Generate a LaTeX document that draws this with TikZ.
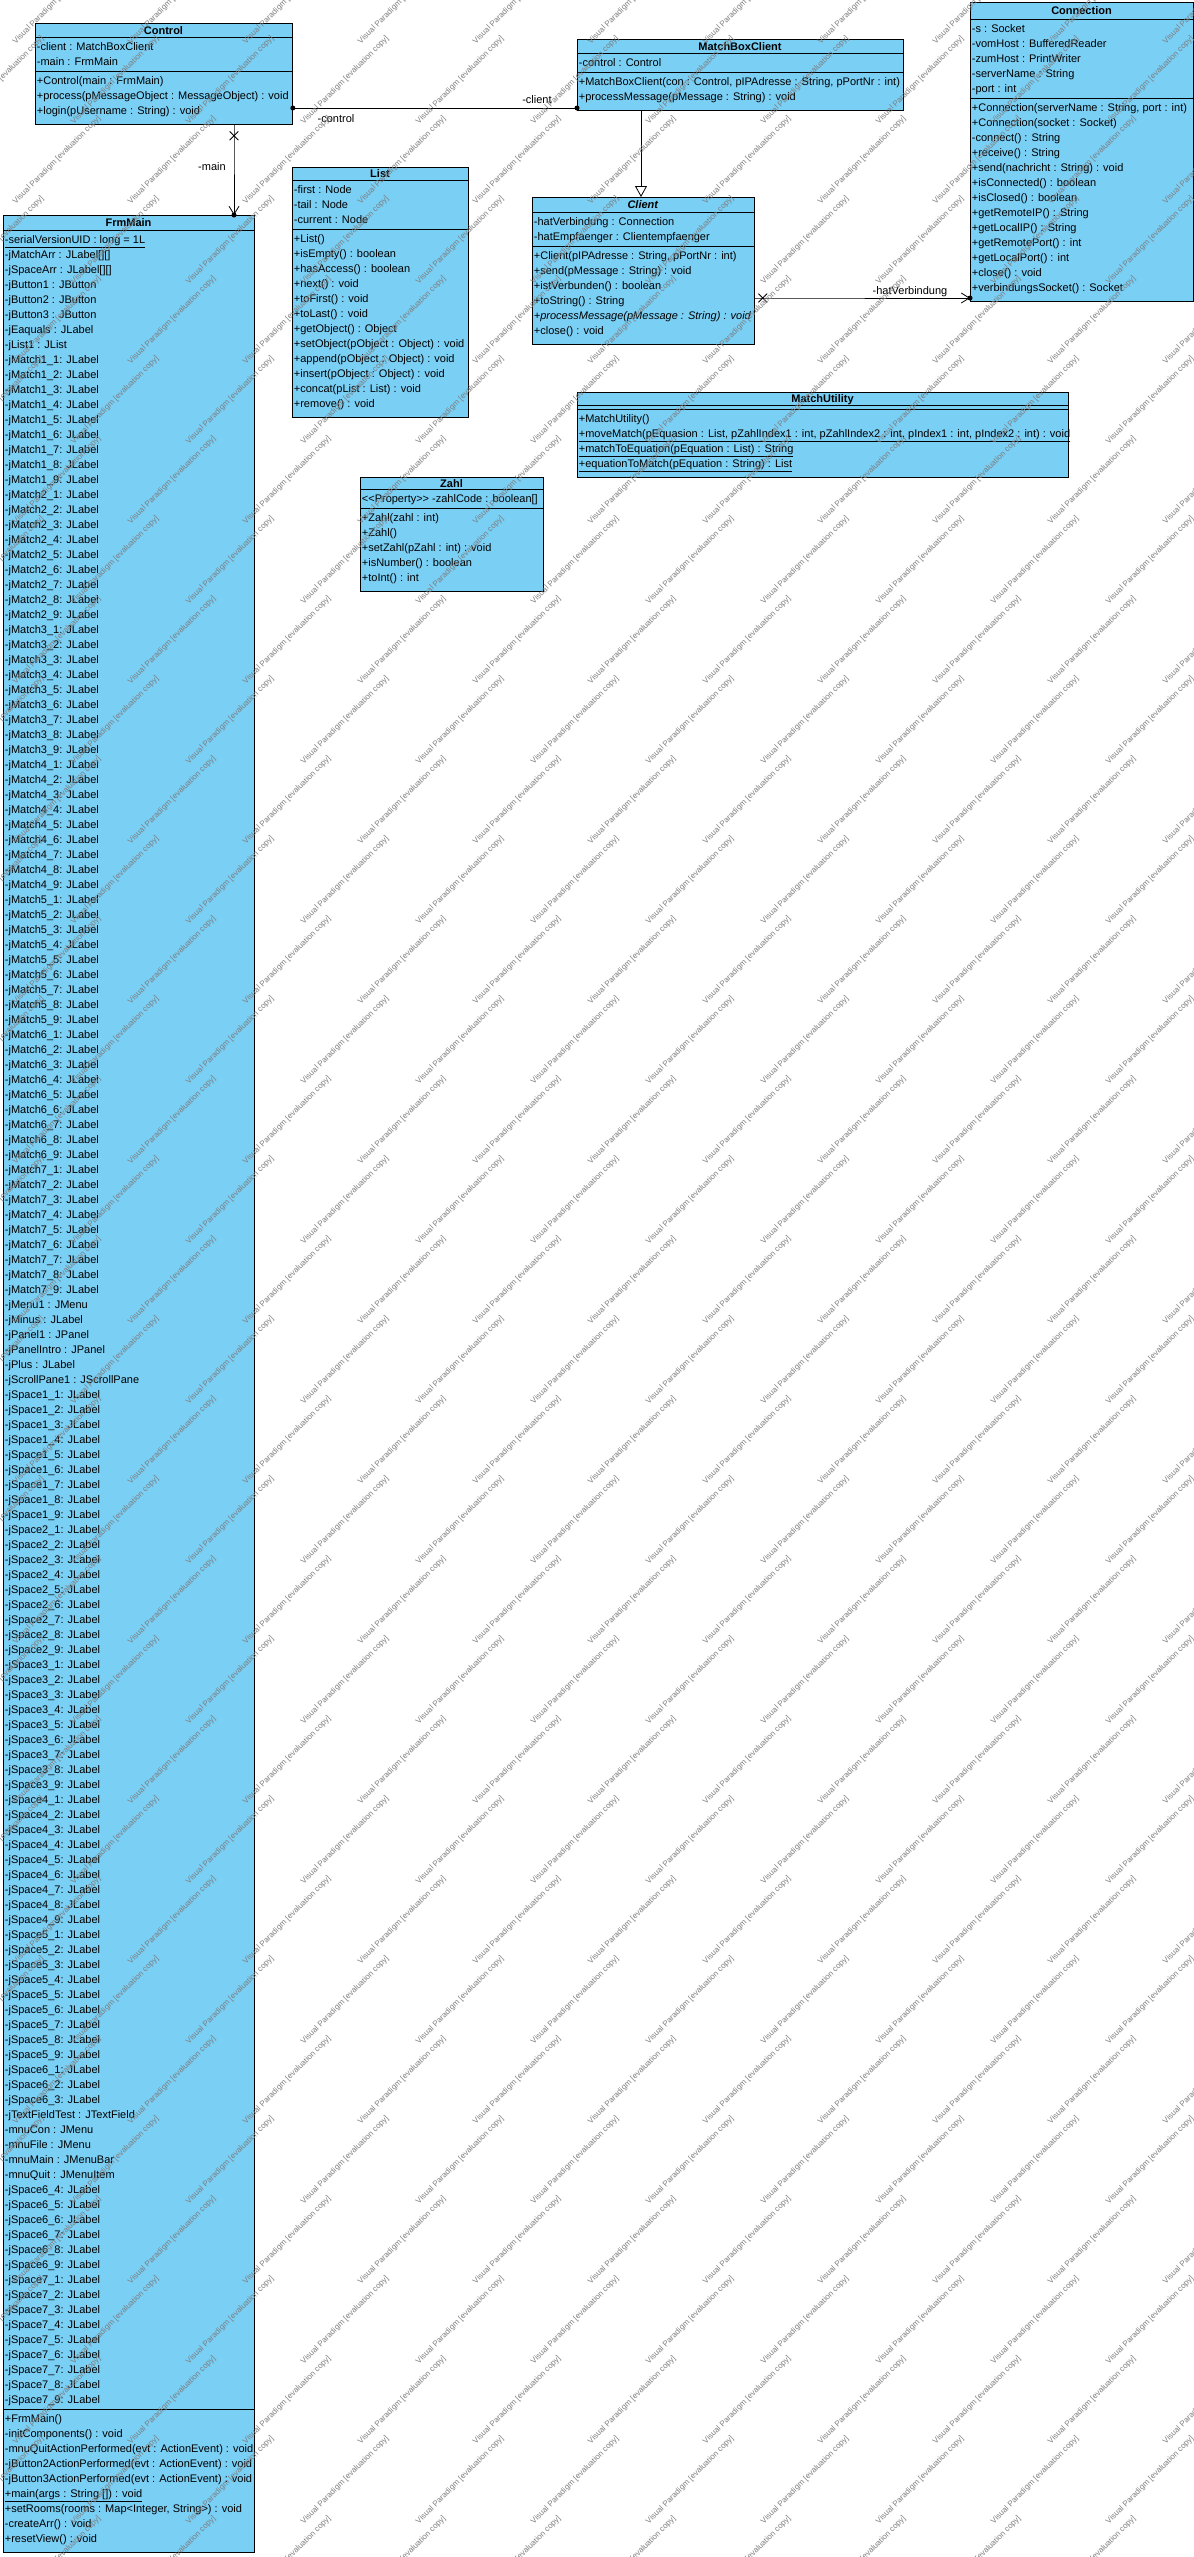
\documentclass[tikz,border=0pt]{standalone}
\usepackage{fontspec}
\setmainfont{Liberation Sans}
\usetikzlibrary{arrows.meta,shapes.misc,positioning}

\definecolor{classblue}{RGB}{122,207,245}
\definecolor{wmgray}{RGB}{125,125,125}

\tikzset{
  >=Latex,
  uml/.style={font=\fontsize{11}{15}\selectfont, line width=0.8pt},
  classbox/.style={draw, fill=classblue, inner sep=0pt, anchor=north west},
  classname/.style={font=\fontsize{11}{15}\selectfont\bfseries, inner sep=0pt, anchor=base},
  member/.style={inner sep=0pt, anchor=base west},
  role/.style={inner sep=0pt, anchor=base},
  navi/.style={-{Straight Barb[length=8pt,width=10pt]}},
  gen/.style={-{Triangle[open,length=11pt,width=12pt]}},
  xmark/.style={cross out, draw, minimum size=8pt, inner sep=0pt},
  owner/.style={circle, fill, inner sep=0pt, minimum size=5pt},
  wmark/.style={font=\fontsize{8}{9}\selectfont, text=wmgray, rotate=45, inner sep=0pt}
}

% box, name and the two separator lines of a class
% [#1 header height] #2 name, #3 left, #4 top, #5 width, #6 no. of attributes, #7 no. of operations, #8 title
\newcommand{\umlclass}[8][14]{%
  \pgfmathsetmacro\sepa{#4+#1}%
  \pgfmathsetmacro\sepb{\sepa+4+15*#6}%
  \pgfmathsetmacro\boxh{\sepb+8+15*#7-#4}%
  \pgfmathsetmacro\attry{\sepa+13.5}%
  \pgfmathsetmacro\opy{\sepb+13.5}%
  \node[classbox, minimum width=#5pt, minimum height=\boxh pt] (#2) at (#3,#4) {};
  \node[classname] (#2-name) at ({#3+#5/2},{#4+#1/2+4}) {#8};
  \draw (#2.west |- 0,\sepa) -- (#2.east |- 0,\sepa);
  \draw (#2.west |- 0,\sepb) -- (#2.east |- 0,\sepb);
}
% one line of text per list item
\newcommand{\members}[4]{%
  \foreach \mem [count=\k] in {#4} {\node[member] (#1\k) at ({#2},{#3+15*(\k-1)}) {\mem};}%
}

\begin{document}
\begin{tikzpicture}[uml, x=1pt, y=-1pt]
\useasboundingbox (0,0) rectangle (1194,2557);

% Control
\umlclass{control}{35}{23}{257}{2}{3}{Control}
\members{control-a}{36.5}{\attry}{-client : MatchBoxClient, -main : FrmMain}
\members{control-o}{36.5}{\opy}{+Control(main : FrmMain), +process(pMessageObject : MessageObject) : void, +login(pUsername : String) : void}

% MatchBoxClient
\umlclass{mbc}{577}{39}{326}{1}{2}{MatchBoxClient}
\members{mbc-a}{578.5}{\attry}{-control : Control}
\members{mbc-o}{578.5}{\opy}{{+MatchBoxClient(con : Control, pIPAdresse : String, pPortNr : int)}, +processMessage(pMessage : String) : void}

% Connection
\umlclass[17]{conn}{970}{2}{223}{5}{13}{Connection}
\members{conn-a}{971.5}{\attry}{-s : Socket, -vomHost : BufferedReader, -zumHost : PrintWriter, -serverName : String, -port : int}
\members{conn-o}{971.5}{\opy}{{+Connection(serverName : String, port : int)}, +Connection(socket : Socket), -connect() : String, +receive() : String,
  +send(nachricht : String) : void, +isConnected() : boolean, +isClosed() : boolean, +getRemoteIP() : String, +getLocalIP() : String,
  +getRemotePort() : int, +getLocalPort() : int, +close() : void, +verbindungsSocket() : Socket}

% List
\umlclass[13]{list}{292}{167}{176}{3}{12}{List}
\members{list-a}{293.5}{\attry}{-first : Node, -tail : Node, -current : Node}
\members{list-o}{293.5}{\opy}{+List(), +isEmpty() : boolean, +hasAccess() : boolean, +next() : void, +toFirst() : void, +toLast() : void,
  +getObject() : Object, +setObject(pObject : Object) : void, +append(pObject : Object) : void, +insert(pObject : Object) : void,
  +concat(pList : List) : void, +remove() : void}

% Client
\umlclass[15]{client}{532}{197}{222}{2}{6}{\textit{Client}}
\members{client-a}{533.5}{\attry}{-hatVerbindung : Connection, -hatEmpfaenger : Clientempfaenger}
\members{client-o}{533.5}{\opy}{{+Client(pIPAdresse : String, pPortNr : int)}, +send(pMessage : String) : void, +istVerbunden() : boolean,
  +toString() : String, \textit{+processMessage(pMessage : String) : void}, +close() : void}

% MatchUtility
\umlclass[13]{mutil}{577}{392}{491}{0}{4}{MatchUtility}
\members{mutil-o}{578.5}{\opy}{+MatchUtility(), {\underline{+moveMatch(pEquasion : List, pZahlIndex1 : int, pZahlIndex2 : int, pIndex1 : int, pIndex2 : int) : void}},
  \underline{+matchToEquation(pEquation : List) : String}, \underline{+equationToMatch(pEquation : String) : List}}

% Zahl
\umlclass[12]{zahl}{360}{477}{183}{1}{5}{Zahl}
\members{zahl-a}{361.5}{\attry}{<\kern0pt<Property>\kern0pt> -zahlCode : boolean[]}
\members{zahl-o}{361.5}{\opy}{+Zahl(zahl : int), +Zahl(), +setZahl(pZahl : int) : void, +isNumber() : boolean, +toInt() : int}

% FrmMain
\umlclass[15]{frm}{3}{215}{251}{145}{9}{FrmMain}
\members{frm-a}{4.5}{\attry}{\underline{-serialVersionUID : long = 1L}, -jMatchArr : JLabel[][], -jSpaceArr : JLabel[][], -jButton1 : JButton,
  -jButton2 : JButton, -jButton3 : JButton, -jEaquals : JLabel, -jList1 : JList}
\foreach \r in {1,...,7}
  \foreach \c in {1,...,9} {
    \pgfmathtruncatemacro\k{8+9*(\r-1)+\c}
    \node[member] (frm-a\k) at (4.5,{\attry+15*(\k-1)}) {-jMatch\r\_\c : JLabel};
  }
\members{frm-b}{4.5}{\attry+15*71}{-jMenu1 : JMenu, -jMinus : JLabel, -jPanel1 : JPanel, -jPanelIntro : JPanel, -jPlus : JLabel, -jScrollPane1 : JScrollPane}
\foreach \r in {1,...,7}
  \foreach \c in {1,...,9} {
    \pgfmathtruncatemacro\k{77+9*(\r-1)+\c+5*(9*(\r-1)+\c>48)}
    \node[member] (frm-a\k) at (4.5,{\attry+15*(\k-1)}) {-jSpace\r\_\c : JLabel};
  }
\members{frm-c}{4.5}{\attry+15*125}{-jTextFieldTest : JTextField, -mnuCon : JMenu, -mnuFile : JMenu, -mnuMain : JMenuBar, -mnuQuit : JMenuItem}
\members{frm-o}{4.5}{\opy}{+FrmMain(), -initComponents() : void, -mnuQuitActionPerformed(evt : ActionEvent) : void,
  -jButton2ActionPerformed(evt : ActionEvent) : void, -jButton3ActionPerformed(evt : ActionEvent) : void,
  \underline{+main(args : String []) : void}, {+setRooms(rooms : Map<Integer, String>) : void}, -createArr() : void, +resetView() : void}

% Control -- MatchBoxClient
\draw (control.east |- 0,108) -- (mbc.west |- 0,108);
\node[owner] (dot-control) at (control.east |- 0,108) {};
\node[owner] (dot-client) at (mbc.west |- 0,108) {};
\node[role] (r-control) at (336,122) {-control};
\node[role] (r-client) at (537,103) {-client};

% Control -> FrmMain
\draw[navi] (control.south -| 234,0) -- ++(0,11) node[xmark] (x-main) {} -- (frm.north -| 234,0);
\node[owner] (dot-main) at (frm.north -| 234,0) {};
\node[role] (r-main) at (212,170) {-main};

% MatchBoxClient -> Client
\draw[gen] (mbc.south -| 641,0) -- (client.north -| 641,0);

% Client -> Connection
\draw[navi] (client.east |- 0,298) -- ++(8,0) node[xmark] (x-conn) {} -- (conn.west |- 0,298);
\node[owner] (dot-conn) at (conn.west |- 0,298) {};
\node[role] (r-verb) at (910,294) {-hatVerbindung};

% evaluation watermark, staggered rows
\foreach \wy [count=\wr] in {0,80,...,2640}
  \foreach \wx in {0,115,...,1265} {
    \pgfmathsetmacro\wxs{\wx+57*mod(\wr,2)}
    \node[wmark] (wm-\wr-\wx) at (\wxs,\wy) {Visual Paradigm [evaluation copy]};
  }

\end{tikzpicture}
\end{document}
